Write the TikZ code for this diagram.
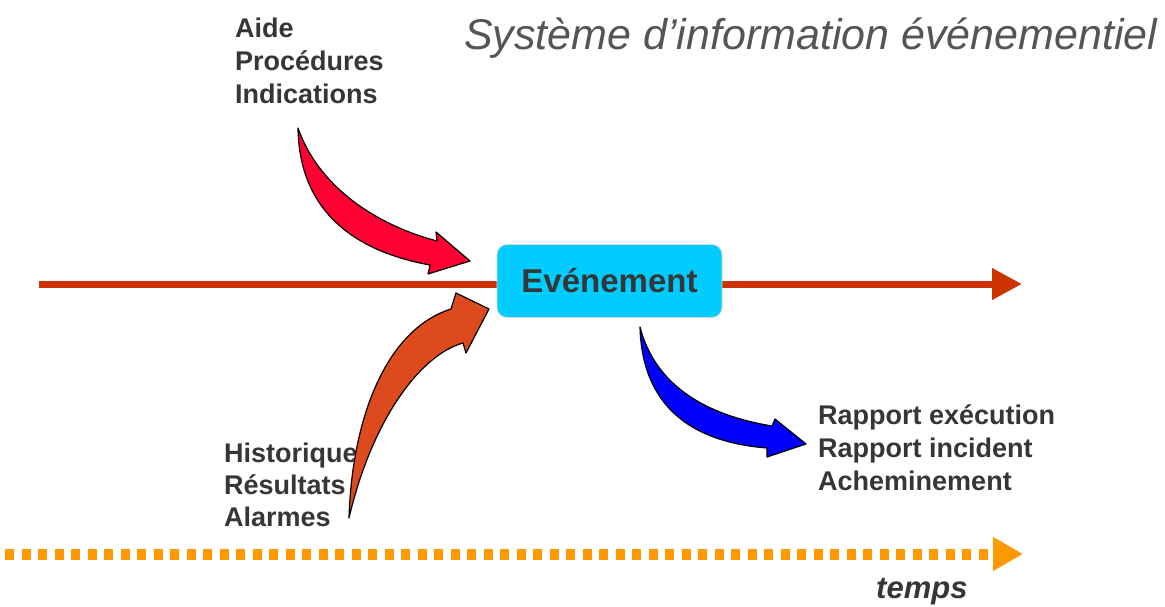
\documentclass[tikz,border=0pt]{standalone}
\usepackage{fontspec}
\setmainfont{Liberation Sans}
\usetikzlibrary{arrows.meta}
\definecolor{axisred}{HTML}{CC3300}
\definecolor{evcyan}{HTML}{00CCFF}
\definecolor{txtgray}{HTML}{363636}
\definecolor{titlegray}{HTML}{555555}
\definecolor{arrred}{HTML}{FF0033}
\definecolor{arrorange}{HTML}{DD4A1E}
\definecolor{arrblue}{HTML}{0000FF}
\definecolor{timeorange}{HTML}{FF9900}
\tikzset{
  lbl/.style={anchor=base west, inner sep=0pt, text=txtgray, font=\fontsize{27}{33}\selectfont\bfseries},
  bigarrow/.style={draw=black, line width=1.2pt, line join=round},
  evbox/.style={draw=black!15, line width=0.8pt, fill=evcyan, rounded corners=10pt,
    minimum width=225pt, minimum height=73pt, inner sep=0pt,
    text=txtgray, font=\fontsize{33}{36}\selectfont\bfseries},
}
\begin{document}
\begin{tikzpicture}[x=1pt,y=-1pt]
\useasboundingbox (0,0) rectangle (1165,607);
% title
\node[anchor=base west, inner sep=0pt, text=titlegray, font=\fontsize{43}{48}\selectfont\itshape] (title) at (464,50) {Système d’information événementiel};
% axis
\coordinate (axL) at (39,284);
\coordinate (axR) at (1022,284);
\draw[axisred, line width=7pt, -{Triangle[length=30pt,width=30pt]}] (axL) -- (axR);
% event node
\node[evbox] (ev) at (609.5,281) {Evénement};
% labels
\node[lbl] (aide) at (235,38) {Aide};
\node[lbl] (proc) at (235,71) {Procédures};
\node[lbl] (indi) at (235,104) {Indications};
\node[lbl] (hist) at (224,462) {Historique};
\node[lbl] (resu) at (224,494) {Résultats};
\node[lbl] (alar) at (224,526) {Alarmes};
\node[lbl] (rexe) at (818,424) {Rapport exécution};
\node[lbl] (rinc) at (818,457) {Rapport incident};
\node[lbl] (ache) at (818,490) {Acheminement};
% curved arrows
\filldraw[bigarrow, fill=arrred] (298,128) .. controls (318,185) and (373,224) .. (437,241)
  -- (436,232) -- (470,261) -- (428,274) -- (430,265)
  .. controls (347,250) and (299,205) .. (298,128) -- cycle;
\filldraw[bigarrow, fill=arrorange] (349,518) .. controls (352,420) and (385,330) .. (451,309)
  -- (456,293) -- (489,309) -- (466,353) -- (463,343)
  .. controls (420,355) and (372,420) .. (349,518) -- cycle;
\filldraw[bigarrow, fill=arrblue] (640,327) .. controls (655,385) and (705,415) .. (772,426)
  -- (775,419) -- (806,444) -- (767,457) -- (767,448)
  .. controls (690,442) and (642,405) .. (640,327) -- cycle;
% time axis
\coordinate (tL) at (5,554);
\coordinate (tR) at (1023,554);
\draw[timeorange, line width=11pt, dash pattern=on 9pt off 7.5pt, -{Triangle[length=30pt,width=32pt]}] (tL) -- (tR);
\node[anchor=base west, inner sep=0pt, text=txtgray, font=\fontsize{31}{34}\selectfont\bfseries\itshape] (temps) at (876,598) {temps};
\end{tikzpicture}
\end{document}
